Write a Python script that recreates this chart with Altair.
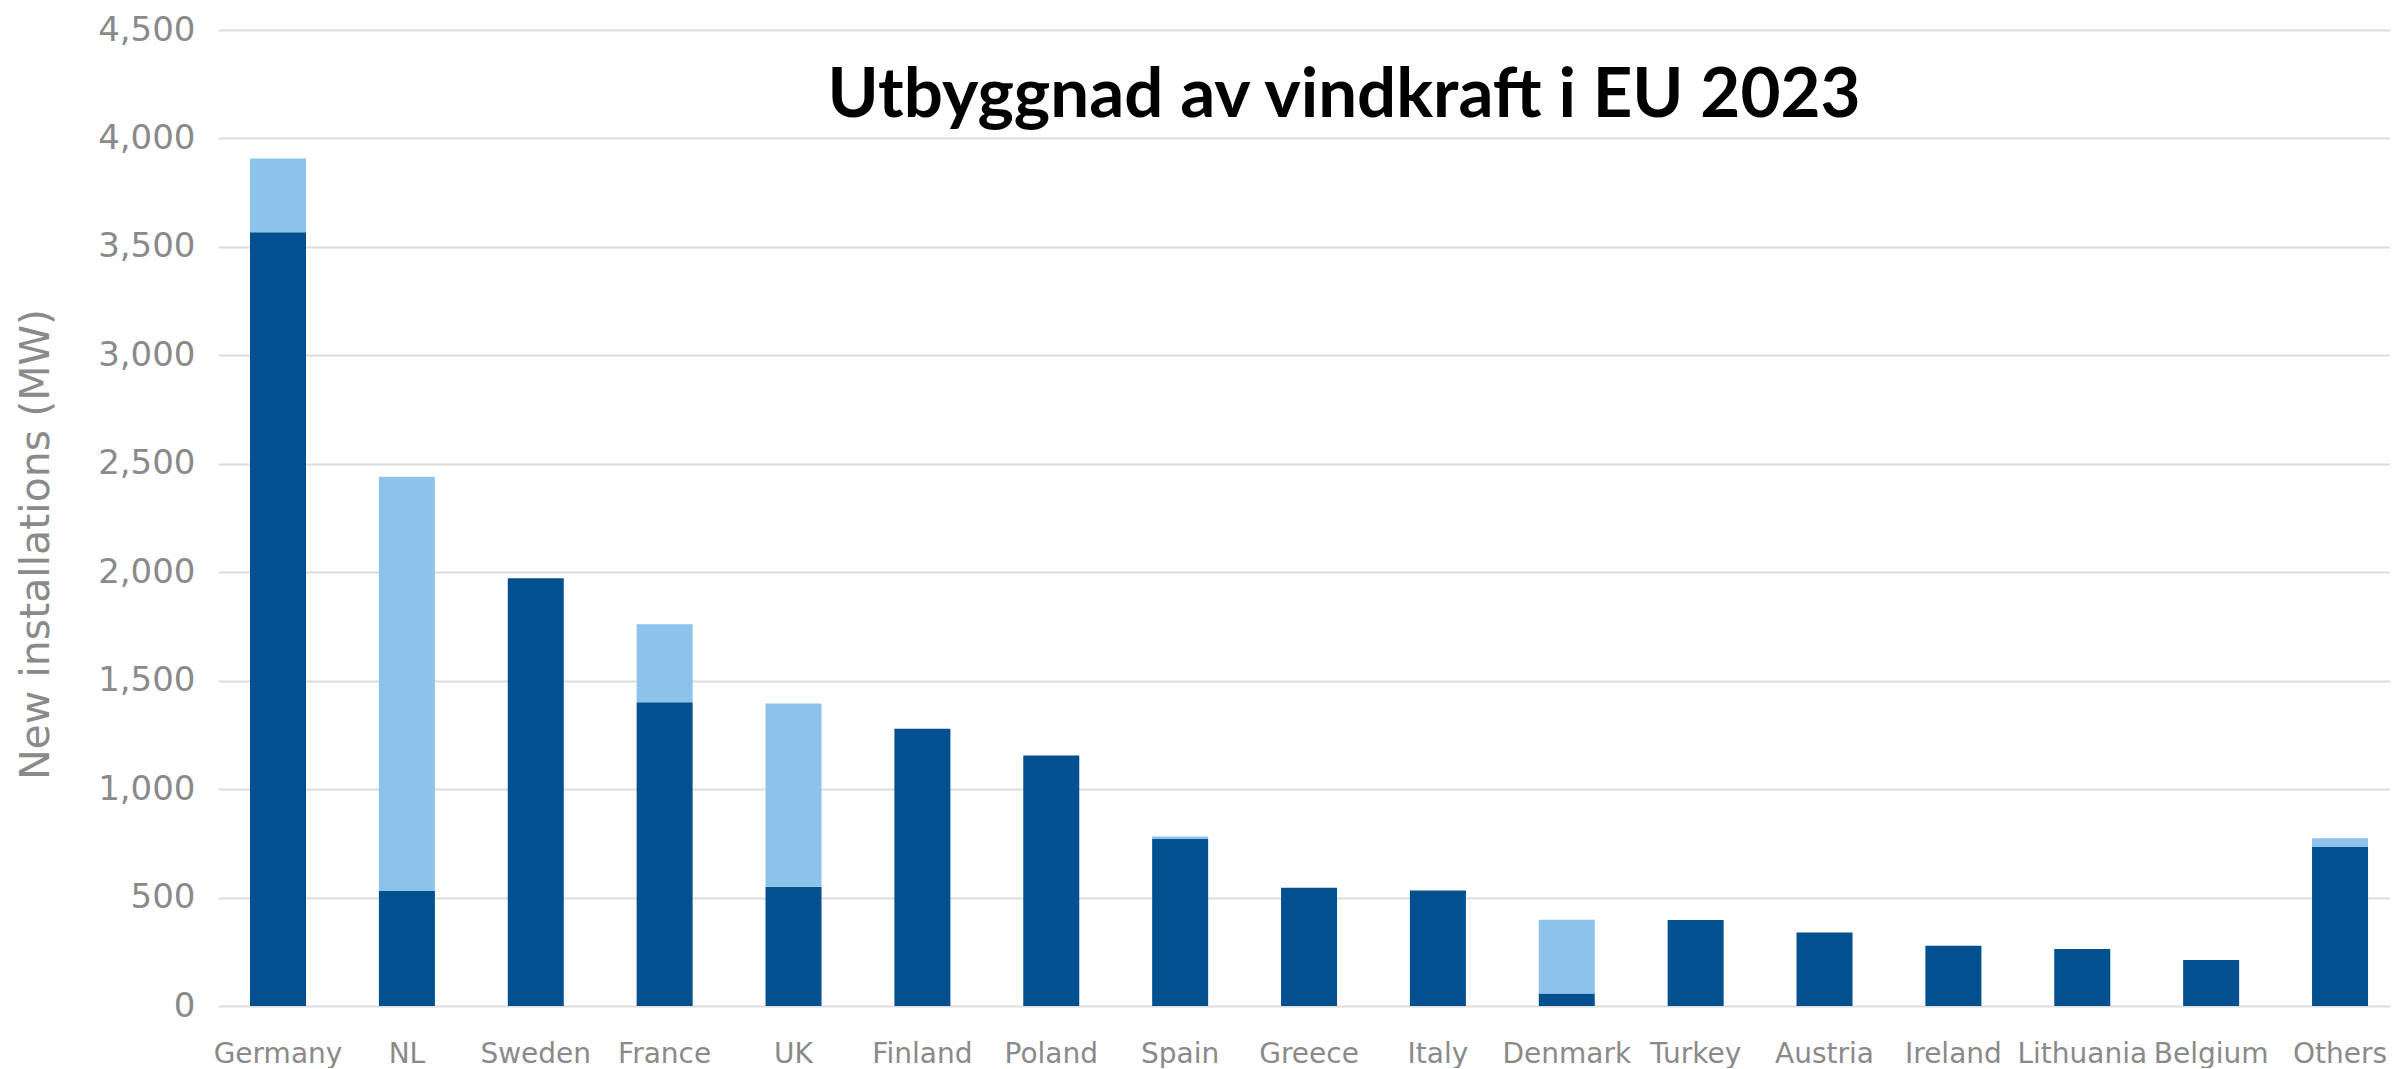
import altair as alt
import pandas as pd

countries = ["Germany", "NL", "Sweden", "France", "UK", "Finland", "Poland", "Spain",
             "Greece", "Italy", "Denmark", "Turkey", "Austria", "Ireland", "Lithuania",
             "Belgium", "Others"]
onshore = [3567, 530, 1972, 1400, 550, 1278, 1155, 770, 545, 533, 58, 396, 339, 278, 263, 212, 733]
offshore = [340, 1910, 0, 360, 845, 0, 0, 12, 0, 0, 340, 0, 0, 0, 0, 0, 40]
series = ["Onshore", "Offshore"]
y_ticks = [0, 500, 1000, 1500, 2000, 2500, 3000, 3500, 4000, 4500]
title_text = ["Utbyggnad av vindkraft i EU 2023"]
y_title = "New installations (MW)"

rows = []
for c, on, off in zip(countries, onshore, offshore):
    rows.append({"country": c, "type": series[0], "idx": 0, "value": on})
    rows.append({"country": c, "type": series[1], "idx": 1, "value": off})
df = pd.DataFrame(rows)

DARK = "#02508f"
LIGHT = "#8dc2ea"
GRAY = "#8a8a8a"
W, H = 2172, 976

bars = alt.Chart(df).mark_bar().encode(
    x=alt.X("country:N", sort=countries,
            scale=alt.Scale(paddingInner=0.5655, paddingOuter=0.2095, align=0.593),
            axis=alt.Axis(title=None, labelAngle=0, ticks=False, domain=False,
                          labelFontSize=28, labelFont="DejaVu Sans", labelColor=GRAY,
                          labelPadding=34)),
    y=alt.Y("value:Q", stack="zero",
            scale=alt.Scale(domain=[0, 4500], nice=False),
            axis=alt.Axis(values=y_ticks, format=",.0f", title=y_title, ticks=False, domain=False,
                          labelFontSize=34, labelFont="DejaVu Sans", labelColor=GRAY,
                          labelPadding=23, gridColor="#dcdcdc", gridWidth=2,
                          titleFontSize=41, titleFont="DejaVu Sans", titleFontWeight="normal",
                          titleColor=GRAY, titlePadding=40, titleY=514)),
    color=alt.Color("type:N", scale=alt.Scale(domain=series, range=[DARK, LIGHT]), legend=None),
    order=alt.Order("idx:Q"),
)

title = alt.Chart(pd.DataFrame({"t": title_text})).mark_text(
    font="Lato", fontWeight="bold", fontSize=69, color="black",
    align="center", baseline="alphabetic"
).encode(text="t:N", x=alt.value(1126), y=alt.value(87))

chart = alt.layer(bars, title).properties(
    width=W, height=H,
    padding={"left": 7, "top": 5, "right": 0, "bottom": 0}
).configure_view(stroke=None)

chart.save("out.html", embed_options={"renderer": "svg", "actions": False})
